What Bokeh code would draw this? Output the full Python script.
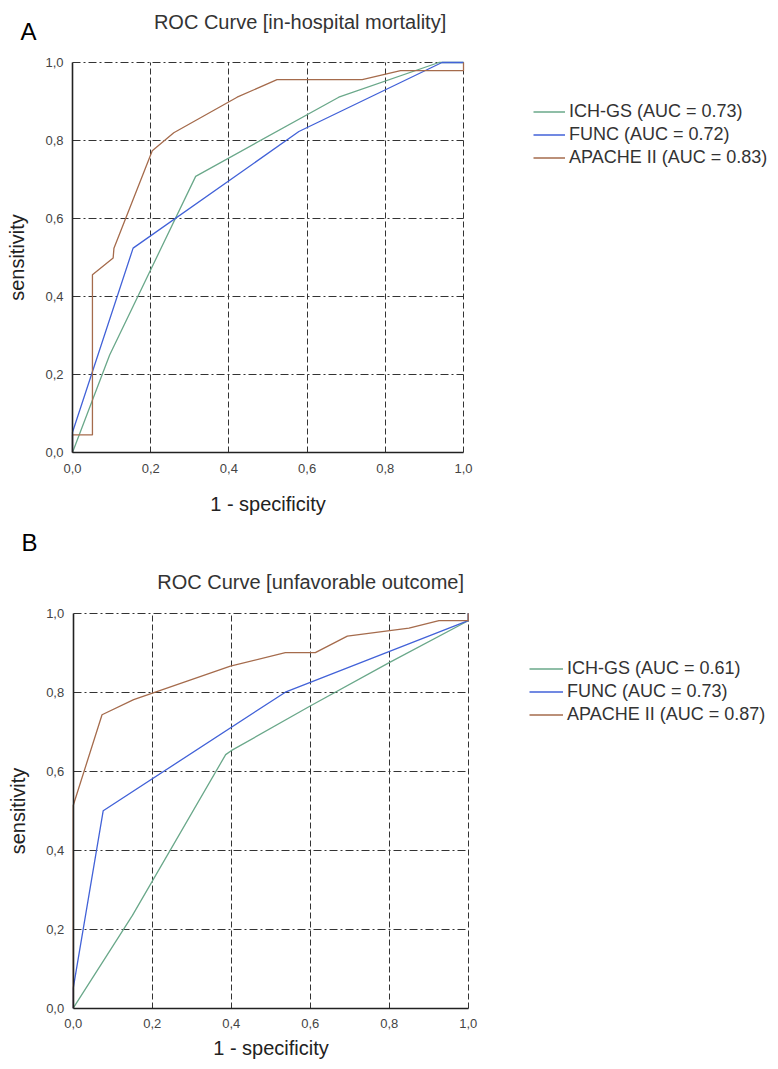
from bokeh.plotting import figure
from bokeh.models import (Range1d, FixedTicker, CustomJSTickFormatter, Label,
                          Legend, LegendItem, LinearAxis, Grid)
from bokeh.layouts import column
from bokeh.embed import file_html
from bokeh.resources import INLINE

# ---------------- data ----------------
series_names = ["ICH-GS", "FUNC", "APACHE II"]
auc_a = ["0.73", "0.72", "0.83"]
auc_b = ["0.61", "0.73", "0.87"]
tick_values = [0.0, 0.2, 0.4, 0.6, 0.8, 1.0]
grid_values = [0.2, 0.4, 0.6, 0.8, 1.0]

ich_a_x = [0.0, 0.095, 0.315, 0.681, 0.937, 1.0]
ich_a_y = [0.0, 0.25, 0.708, 0.911, 1.0, 1.0]
func_a_x = [0.0, 0.0, 0.155, 0.579, 0.945, 1.0]
func_a_y = [0.0, 0.052, 0.524, 0.823, 1.0, 1.0]
apache_a_x = [0.0, 0.0, 0.051, 0.051, 0.104, 0.106, 0.204, 0.259, 0.421, 0.523, 0.741, 0.839, 1.0, 1.0]
apache_a_y = [0.0, 0.045, 0.045, 0.456, 0.499, 0.524, 0.774, 0.82, 0.911, 0.956, 0.956, 0.979, 0.979, 1.0]

ich_b_x = [0.0, 0.15, 0.386, 0.40, 0.60, 0.80, 1.0, 1.0]
ich_b_y = [0.0, 0.235, 0.642, 0.652, 0.765, 0.875, 0.981, 1.0]
func_b_x = [0.0, 0.0, 0.076, 0.537, 1.0, 1.0]
func_b_y = [0.0, 0.05, 0.50, 0.80, 0.981, 1.0]
apache_b_x = [0.0, 0.0, 0.073, 0.153, 0.208, 0.398, 0.537, 0.613, 0.694, 0.85, 0.926, 1.0, 1.0]
apache_b_y = [0.0, 0.513, 0.743, 0.781, 0.80, 0.866, 0.90, 0.90, 0.942, 0.962, 0.981, 0.981, 1.0]

colors = ["#6aa88a", "#4262d8", "#a56b4c"]
FONT = "Liberation Sans"
W = 770


def make_panel(title, letter, xs, ys, aucs, height, x0, unit_x, y0, unit_y,
               legend_loc, glyph_w, title_pos, letter_pos, xlab_standoff):
    # x0, y0: pixel of data (0, 0) in this canvas; unit_x/unit_y: pixels per unit
    x_range = Range1d(-x0 / unit_x, (W - x0) / unit_x)
    y_range = Range1d(-(height - y0) / unit_y, y0 / unit_y)
    p = figure(width=W, height=height, x_range=x_range, y_range=y_range,
               x_axis_location=None, y_axis_location=None,
               min_border=0, output_backend="svg", toolbar_location=None, tools="")
    p.outline_line_color = None
    p.background_fill_color = "white"
    p.border_fill_color = "white"
    # hide the default full-width grids
    for g in list(p.center):
        if isinstance(g, Grid):
            g.visible = False

    # grid lines limited to the unit square
    for dim, dash in ((0, "6 3"), (1, "8 3 2 3")):
        try:
            g = Grid(dimension=dim, ticker=FixedTicker(ticks=grid_values),
                     bounds=(0, 1), cross_bounds=(0, 1))
        except Exception:
            g = None
        if g is not None:
            g.grid_line_color = "#333333"
            g.grid_line_dash = dash
            g.grid_line_width = 1
            p.add_layout(g)
        else:
            if dim == 0:
                p.segment(x0=grid_values, y0=[0] * len(grid_values), x1=grid_values,
                          y1=[1] * len(grid_values), line_color="#333333",
                          line_dash=dash, line_width=1)
            else:
                p.segment(x0=[0] * len(grid_values), y0=grid_values,
                          x1=[1] * len(grid_values), y1=grid_values,
                          line_color="#333333", line_dash=dash, line_width=1)

    fmt = CustomJSTickFormatter(code="return tick.toFixed(1).replace('.', ',');")
    xaxis = LinearAxis(fixed_location=0, bounds=(0, 1))
    yaxis = LinearAxis(fixed_location=0, bounds=(0, 1))
    for ax in (xaxis, yaxis):
        ax.ticker = FixedTicker(ticks=tick_values)
        ax.formatter = fmt
        ax.major_tick_out = 0
        ax.major_tick_in = 0
        ax.minor_tick_out = 0
        ax.minor_tick_in = 0
        ax.axis_line_color = "#222222"
        ax.axis_line_width = 1.6
        ax.major_label_text_font = FONT
        ax.major_label_text_font_size = "13px"
        ax.major_label_text_color = "#444444"
        ax.axis_label_text_font = FONT
        ax.axis_label_text_font_size = "20px"
        ax.axis_label_text_font_style = "normal"
        ax.axis_label_text_color = "#222222"
    xaxis.major_label_standoff = 11
    yaxis.major_label_standoff = 9
    xaxis.axis_label = "1 - specificity"
    yaxis.axis_label = "sensitivity"
    xaxis.axis_label_standoff = xlab_standoff
    yaxis.axis_label_standoff = 14
    p.add_layout(xaxis, "below")
    p.add_layout(yaxis, "left")

    items = []
    for name, auc, x, y, c in zip(series_names, aucs, xs, ys, colors):
        r = p.line(x, y, line_color=c, line_width=1.3)
        items.append(LegendItem(label=f"{name} (AUC = {auc})", renderers=[r]))

    leg = Legend(items=items, location=legend_loc, orientation="vertical",
                 margin=0, padding=0, spacing=0,
                 label_height=23, glyph_height=23, glyph_width=glyph_w,
                 label_standoff=4,
                 label_text_font=FONT, label_text_font_size="18px",
                 label_text_color="#333333",
                 border_line_color=None, background_fill_alpha=0)
    p.add_layout(leg, "center")

    p.add_layout(Label(x=title_pos[0], y=title_pos[1], text=title,
                       text_align="center", text_baseline="alphabetic",
                       text_font=FONT, text_font_size="20px", text_color="#333333"))
    p.add_layout(Label(x=letter_pos[0], y=letter_pos[1], text=letter,
                       text_align="left", text_baseline="alphabetic",
                       text_font=FONT, text_font_size="24px", text_color="#000000"))
    return p


HA = 530
HB = 531
pA = make_panel("ROC Curve [in-hospital mortality]", "A",
                [ich_a_x, func_a_x, apache_a_x], [ich_a_y, func_a_y, apache_a_y], auc_a,
                HA, 72.0, 391.0, 452.0, 390.0,
                (533, HA - 168.5), 32, (0.582, 1.103), (-0.133, 1.080), 17)
pB = make_panel("ROC Curve [unfavorable outcome]", "B",
                [ich_b_x, func_b_x, apache_b_x], [ich_b_y, func_b_y, apache_b_y], auc_b,
                HB, 72.7, 395.0, 1007.7 - 530, 395.0,
                (529, HB - (725.5 - 530)), 34, (0.601, 1.079), (-0.131, 1.179), 5)

layout = column(pA, pB, spacing=0)
open("out.html", "w").write(file_html(layout, INLINE))
